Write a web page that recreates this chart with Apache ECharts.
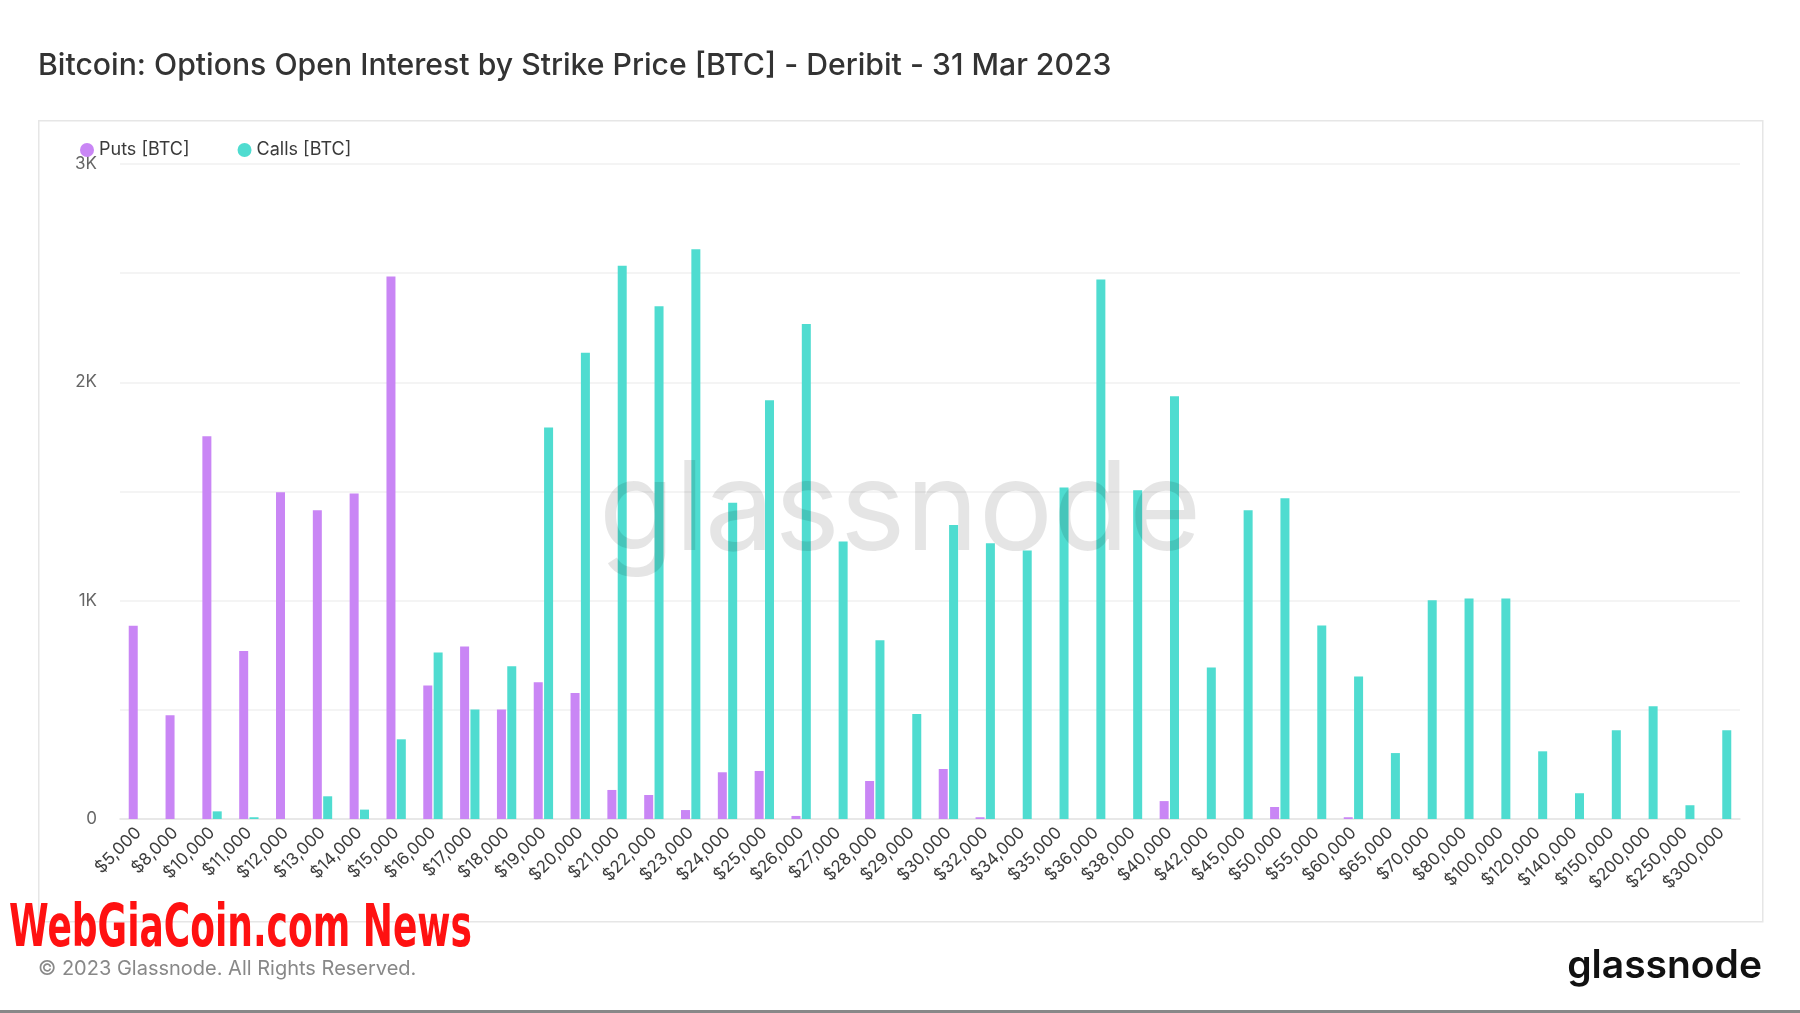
<!DOCTYPE html>
<html>
<head>
<meta charset="utf-8">
<script src="https://cdn.jsdelivr.net/npm/echarts@6/dist/echarts.min.js"></script>
<style>
html,body{margin:0;padding:0;background:#fff;}
#chart{width:1800px;height:1013px;}
</style>
</head>
<body>
<div id="chart"></div>
<script>
const strikes = ['$5,000','$8,000','$10,000','$11,000','$12,000','$13,000','$14,000','$15,000','$16,000','$17,000','$18,000','$19,000','$20,000','$21,000','$22,000','$23,000','$24,000','$25,000','$26,000','$27,000','$28,000','$29,000','$30,000','$32,000','$34,000','$35,000','$36,000','$38,000','$40,000','$42,000','$45,000','$50,000','$55,000','$60,000','$65,000','$70,000','$80,000','$100,000','$120,000','$140,000','$150,000','$200,000','$250,000','$300,000'];

const puts = [885,475,1753,769,1497,1414,1491,2485,612,790,502,626,577,133,110,41,214,220,14,0,174,0,229,8,0,0,0,0,82,0,0,55,0,8,0,0,0,0,0,0,0,0,0,0];

const calls = [0,0,35,8,0,104,43,365,763,502,700,1793,2136,2534,2348,2610,1449,1918,2267,1271,819,481,1346,1263,1230,1518,2471,1506,1936,694,1414,1469,886,653,302,1002,1010,1010,310,118,406,516,63,406];

const yTicks = [0,1000,2000,3000];

const bannerText = 'WebGiaCoin.com News';
const bannerFont = 'bold 58px "DejaVu Sans"';
const mctx = document.createElement('canvas').getContext('2d');
mctx.font = bannerFont;
const bannerScale = 463 / mctx.measureText(bannerText).width;

const chart = echarts.init(document.getElementById('chart'));
chart.setOption({
  backgroundColor:'#ffffff',
  animation:false,
  textStyle:{fontFamily:'Inter, "Noto Sans", sans-serif'},
  title:{
    text:'Bitcoin: Options Open Interest by Strike Price [BTC] - Deribit - 31 Mar 2023',
    left:33, top:46,
    textStyle:{fontFamily:'Inter',fontSize:30.2,fontWeight:500,color:'#333333'}
  },
  legend:{
    left:75, top:136,
    icon:'circle', itemWidth:14, itemHeight:14, itemGap:48,
    textStyle:{fontFamily:'Inter',fontSize:18,color:'#3a3a3a'},
    data:['Puts [BTC]','Calls [BTC]']
  },
  grid:{left:120,right:60,top:164,bottom:194,containLabel:false},
  xAxis:{
    type:'category',
    data:strikes,
    axisLine:{show:true,lineStyle:{color:'#e4e4e4',width:1.5}},
    axisTick:{show:false},
    axisLabel:{rotate:45,interval:0,fontFamily:'Inter',fontSize:17,color:'#3d3d3d',margin:11}
  },
  yAxis:{
    type:'value', min:0, max:3000, interval:500,
    axisLine:{show:false}, axisTick:{show:false},
    splitLine:{lineStyle:{color:'#f0f0f0',width:1.5}},
    axisLabel:{
      fontFamily:'Inter',fontSize:17,color:'#666666',margin:23,
      formatter:function(v){ if(yTicks.indexOf(v)<0) return ''; return v===0?'0':(v/1000)+'K'; }
    }
  },
  series:[
    {name:'Puts [BTC]',type:'bar',data:puts,barWidth:9,barGap:'15%',
     itemStyle:{color:'#c986f5'}},
    {name:'Calls [BTC]',type:'bar',data:calls,barWidth:9,barGap:'15%',
     itemStyle:{color:'#4fdcd0'}}
  ],
  graphic:[
    {type:'rect',left:38,top:120,z:-10,shape:{width:1724,height:801},
     style:{fill:'#ffffff',stroke:'#e6e6e6',lineWidth:1.5}},
    {type:'text',left:'center',top:451,z:100,silent:true,
     style:{text:'glassnode',fontFamily:'Inter',fontSize:124,fontWeight:400,fill:'rgba(0,0,0,0.1)'}},
    {type:'text',x:9,y:902,scaleX:bannerScale,z:100,
     style:{text:bannerText,font:bannerFont,fill:'#ff1111'}},
    {type:'text',left:38,top:959,
     style:{text:'© 2023 Glassnode. All Rights Reserved.',fontFamily:'Inter',fontSize:20,fill:'#888888'}},
    {type:'text',right:38,top:947,
     style:{text:'glassnode',fontFamily:'Inter',fontSize:39,fontWeight:600,fill:'#111111'}},
    {type:'rect',left:0,top:1010,shape:{width:1800,height:3},style:{fill:'#888888'}}
  ]
});
</script>
</body>
</html>
